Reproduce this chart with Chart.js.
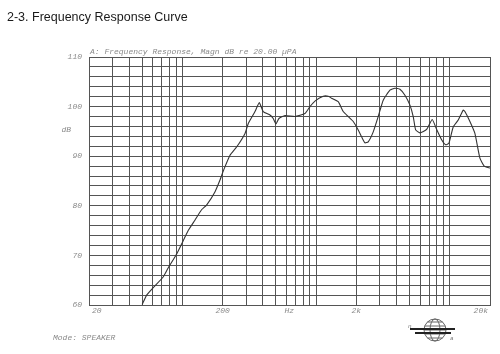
<!DOCTYPE html>
<html>
<head>
<meta charset="utf-8">
<script src="https://cdn.jsdelivr.net/npm/chart.js@4/dist/chart.umd.min.js"></script>
<style>
  html, body { margin: 0; padding: 0; background: #fff; }
  #wrap { width: 500px; height: 354px; position: relative; }
</style>
</head>
<body>
<div id="wrap"><canvas id="fr-chart"></canvas></div>
<script>
// measured curve (Hz, dB SPL)
const freqs = [50, 54, 60, 72, 78, 91, 99, 111, 124, 139, 152, 175, 191, 204, 227, 255, 294, 311, 349, 376,
  402, 452, 478, 501, 527, 585, 695, 825, 900, 990, 1131, 1233, 1306, 1464, 1596, 1739, 1897, 2066, 2191, 2319,
  2455, 2676, 2916, 3178, 3567, 3888, 4237, 4619, 5036, 5330, 5556, 5982, 6712, 7393, 7975, 8690, 9311, 9855,
  10610, 11570, 12610, 12980, 14150, 15420, 16810, 18100, 20000];
const spl = [60.1, 62.0, 63.4, 65.7, 67.4, 70.4, 72.4, 75.1, 77.1, 79.2, 80.2, 82.8, 85.2, 87.3, 90.2, 91.9, 94.6, 96.6, 99.0, 100.8,
  99.0, 98.3, 97.6, 96.5, 97.6, 98.2, 98.0, 98.6, 100.0, 101.2, 102.1, 102.1, 101.7, 101.0, 99.0, 98.0, 97.0, 95.3, 93.9, 92.7,
  92.9, 94.9, 98.0, 101.3, 103.3, 103.7, 103.5, 102.3, 100.3, 98.0, 95.3, 94.7, 95.4, 97.4, 95.4, 93.3, 92.3, 92.6,
  95.9, 97.3, 99.3, 99.0, 97.0, 94.6, 89.6, 88.0, 87.6];

// grid / labels
const xGrid = [20, 30, 40, 50, 60, 70, 80, 90, 100, 200, 300, 400, 500, 600, 700, 800, 900, 1000,
  2000, 3000, 4000, 5000, 6000, 7000, 8000, 9000, 10000, 20000];
const xLabelVals = [20, 200, 630, 2000, 20000];
const xLabelText = ["20", "200", "Hz", "2k", "20k"];
const xLabelAlign = ["left", "center", "center", "center", "right"];

const TITLE = "2-3. Frequency Response Curve";
const SUBTITLE = "A: Frequency Response, Magn dB re 20.00 \u00b5PA";
const MODE = "Mode: SPEAKER";

const smallFont = "italic 8px 'Liberation Mono', 'DejaVu Sans Mono', monospace";
const labelGrey = "#8a8a8a";
const gridGrey = "#555";

const extras = {
  id: "extras",
  afterDraw(chart) {
    const ctx = chart.ctx;
    const xs = chart.scales.x;
    const ys = chart.scales.y;
    const area = chart.chartArea;
    ctx.save();

    ctx.fillStyle = "#1a1a1a";
    ctx.font = "12.5px 'Liberation Sans', Arial, sans-serif";
    ctx.textAlign = "left";
    ctx.textBaseline = "alphabetic";
    ctx.fillText(TITLE, 7, 21);

    ctx.fillStyle = labelGrey;
    ctx.font = smallFont;
    ctx.fillText(SUBTITLE, area.left + 1, area.top - 3);

    // x labels
    ctx.textBaseline = "middle";
    xLabelVals.forEach((v, i) => {
      const align = xLabelAlign[i];
      let px = xs.getPixelForValue(v);
      if (align === "left") px += 3;
      if (align === "right") px -= 2;
      ctx.textAlign = align;
      ctx.fillText(xLabelText[i], px, area.bottom + 6);
    });

    // unit label
    ctx.textAlign = "right";
    ctx.fillText("dB", 71, ys.getPixelForValue(95.4));

    ctx.textAlign = "left";
    ctx.fillText(MODE, 53, 338);

    // small logo
    const cx = 435, cy = 330;
    ctx.strokeStyle = "#666";
    ctx.lineWidth = 1;
    ctx.beginPath();
    ctx.arc(cx, cy, 11, 0, Math.PI * 2);
    ctx.stroke();
    ctx.beginPath();
    ctx.ellipse(cx, cy, 5, 11, 0, 0, Math.PI * 2);
    ctx.stroke();
    for (let k = -8; k <= 8; k += 4) {
      const half = Math.sqrt(121 - k * k);
      ctx.beginPath();
      ctx.moveTo(cx - half, cy + k);
      ctx.lineTo(cx + half, cy + k);
      ctx.stroke();
    }
    ctx.strokeStyle = "#222";
    ctx.lineWidth = 2;
    ctx.beginPath();
    ctx.moveTo(cx - 25, cy - 1);
    ctx.lineTo(cx + 20, cy - 1);
    ctx.moveTo(cx - 20, cy + 3);
    ctx.lineTo(cx + 16, cy + 3);
    ctx.stroke();
    ctx.fillStyle = "#777";
    ctx.font = "italic 6px 'Liberation Mono', monospace";
    ctx.fillText("n", cx - 27, cy - 4);
    ctx.fillText("a", cx + 15, cy + 8);

    ctx.restore();
  }
};

new Chart(document.getElementById("fr-chart"), {
  type: "line",
  data: {
    datasets: [{
      data: freqs.map((f, i) => ({ x: f, y: spl[i] })),
      borderColor: "#333",
      borderWidth: 1.1,
      pointRadius: 0,
      tension: 0.15,
      fill: false
    }]
  },
  options: {
    responsive: true,
    maintainAspectRatio: false,
    animation: false,
    layout: { padding: { top: 57, right: 10, bottom: 0, left: 0 } },
    plugins: { legend: { display: false }, tooltip: { enabled: false } },
    scales: {
      x: {
        type: "logarithmic",
        min: 20,
        max: 20000,
        afterBuildTicks: (scale) => { scale.ticks = xGrid.map((v) => ({ value: v })); },
        afterFit: (scale) => { scale.height = 49; },
        ticks: { display: false },
        grid: { color: gridGrey, lineWidth: 1, drawTicks: false },
        border: { color: gridGrey }
      },
      y: {
        min: 60,
        max: 110,
        afterFit: (scale) => { scale.width = 89; },
        ticks: {
          stepSize: 2,
          autoSkip: false,
          padding: 7,
          color: labelGrey,
          font: { family: "'Liberation Mono', monospace", size: 8, style: "italic" },
          callback: (v) => (v % 10 === 0 ? String(v) : "")
        },
        grid: { color: gridGrey, lineWidth: 1, drawTicks: false },
        border: { color: gridGrey }
      }
    }
  },
  plugins: [extras]
});
</script>
</body>
</html>
